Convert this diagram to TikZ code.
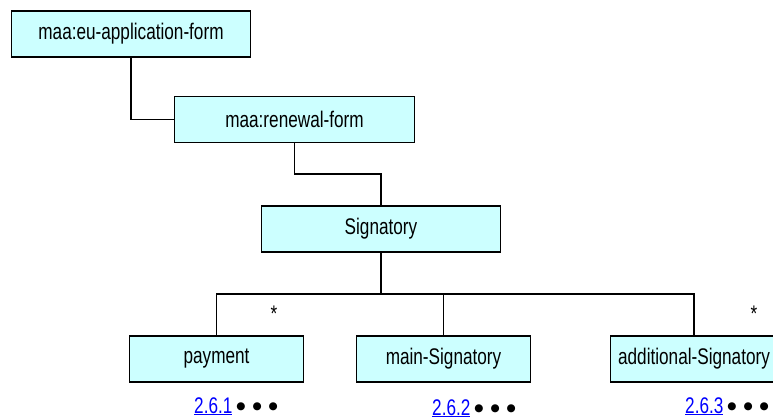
\documentclass[tikz,border=0pt]{standalone}
\usepackage{fontspec}
\setmainfont[FakeStretch=0.76]{Liberation Sans}
\newfontfamily\dotfont{DejaVu Sans}
\usetikzlibrary{calc}
\definecolor{boxfill}{HTML}{CCFFFF}
\definecolor{linkblue}{HTML}{0000FF}
\tikzset{
  box/.style={draw, line width=1.8pt, fill=boxfill, minimum width=#1, minimum height=46pt, inner sep=0pt, font=\fontsize{22.6}{26}\selectfont},
  conn/.style={line width=1.8pt},
  linknode/.style={anchor=base west, inner sep=0pt, font=\fontsize{22.6}{26}\selectfont},
  starnode/.style={inner sep=0pt, font=\fontsize{22.6}{26}\selectfont}
}
\newcommand{\bigdot}{{\dotfont\fontsize{10.5}{12}\selectfont\raisebox{3.5pt}{●}}}
\newcommand{\secref}[1]{\textcolor{linkblue}{\underline{#1}}\hspace{4pt}\bigdot\hspace{7pt}\bigdot\hspace{7pt}\bigdot}
\begin{document}
\begin{tikzpicture}[x=1pt, y=-1pt]
\useasboundingbox (0,0) rectangle (773,419);
\clip (0,0) rectangle (773,419);
\node[box=239pt] (app) at (131,34) {maa:eu-application-form};
\node[box=240pt] (ren) at (294.5,119.5) {maa:renewal-form};
\node[box=239pt] (sig) at (381,229) {Signatory};
\node[box=174pt] (pay) at (216.5,359) {payment};
\node[box=174pt] (mainsig) at (443.5,359) {main-Signatory};
\node[box=167pt] (addsig) at (694,359) {additional-Signatory};
\coordinate (j1) at ($(ren.south)!0.5!(ren.south |- sig.north)$);
\coordinate (bus) at ($(sig.south)!0.5!(sig.south |- mainsig.north)$);
\draw[conn] (app.south) |- (ren.west);
\draw[conn] (ren.south) -- (j1) -| (sig.north);
\draw[conn] (sig.south) -- (bus);
\draw[conn] (bus) -| (pay.north);
\draw[conn] (bus) -| (mainsig.north);
\draw[conn] (bus) -| (addsig.north);
\node[starnode] (s1) at (274,314) {*};
\node[starnode] (s3) at (754,314) {*};
\node[linknode] (l1) at (194,413) {\secref{2.6.1}};
\node[linknode] (l2) at (432,415) {\secref{2.6.2}};
\node[linknode] (l3) at (685,413) {\secref{2.6.3}};
\end{tikzpicture}
\end{document}
